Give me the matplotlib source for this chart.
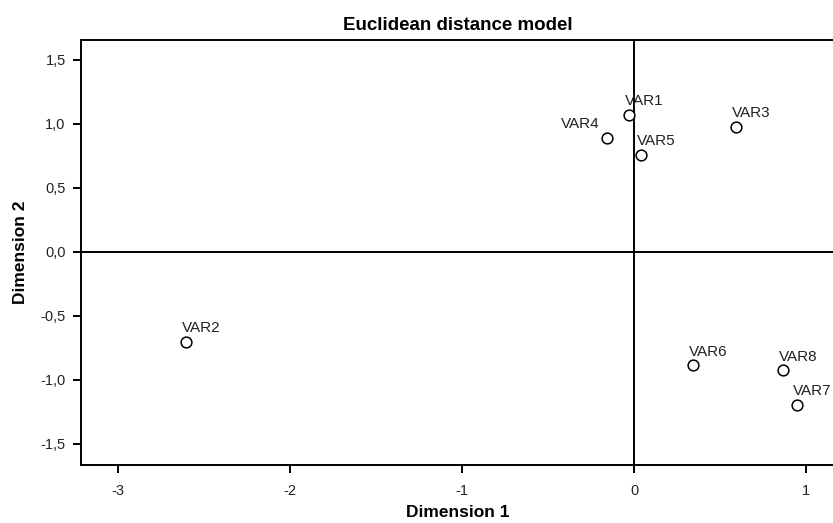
import matplotlib
matplotlib.use("Agg")
import matplotlib.pyplot as plt

plt.rcParams['font.family'] = ['Liberation Sans', 'DejaVu Sans']

names = ["VAR1", "VAR2", "VAR3", "VAR4", "VAR5", "VAR6", "VAR7", "VAR8"]
dim1 = [-0.029, -2.605, 0.591, -0.155, 0.043, 0.345, 0.948, 0.866]
dim2 = [1.068, -0.703, 0.974, 0.893, 0.758, -0.888, -1.200, -0.927]

xticks = [-3, -2, -1, 0, 1]
xticklabels = ["-3", "-2", "-1", "0", "1"]
yticks = [-1.5, -1.0, -0.5, 0.0, 0.5, 1.0, 1.5]
yticklabels = ["-1,5", "-1,0", "-0,5", "0,0", "0,5", "1,0", "1,5"]

W, H = 833, 523
fig = plt.figure(figsize=(W / 100, H / 100), dpi=100)
left, right, top, bottom = 81, 835, 40, 465
ax = fig.add_axes([left / W, 1 - bottom / H, (right - left) / W, (bottom - top) / H])

ax.set_xlim(-3.215, 1.168)
ax.set_ylim(-1.666, 1.656)

ax.axhline(0, color='black', lw=1.4, zorder=1)
ax.axvline(0, color='black', lw=1.4, zorder=1)

ax.scatter(dim1, dim2, s=60, facecolors='white', edgecolors='black', linewidths=1.1, zorder=3)

for n, x, y in zip(names, dim1, dim2):
    if n == "VAR4":
        ax.annotate(n, (x, y), xytext=(-6, 5), textcoords='offset points',
                    ha='right', va='bottom', fontsize=11, color='#222222')
    else:
        ax.annotate(n, (x, y), xytext=(-3, 5), textcoords='offset points',
                    ha='left', va='bottom', fontsize=11, color='#222222')

ax.set_xticks(xticks)
ax.set_xticklabels(xticklabels)
ax.set_yticks(yticks)
ax.set_yticklabels(yticklabels)
ax.tick_params(axis='both', direction='out', length=6, width=1.4, labelsize=10.5,
               colors='black', labelcolor='#222222')
ax.tick_params(axis='x', pad=8)
ax.tick_params(axis='y', pad=5)
for side in ['left', 'bottom', 'top', 'right']:
    ax.spines[side].set_linewidth(1.4)

ax.set_title("Euclidean distance model", fontsize=13.5, fontweight='bold', pad=7)
ax.set_xlabel("Dimension 1", fontsize=12.5, fontweight='bold', labelpad=5)
ax.set_ylabel("Dimension 2", fontsize=12.5, fontweight='bold', labelpad=9)

fig.savefig("out.png", dpi=100)
